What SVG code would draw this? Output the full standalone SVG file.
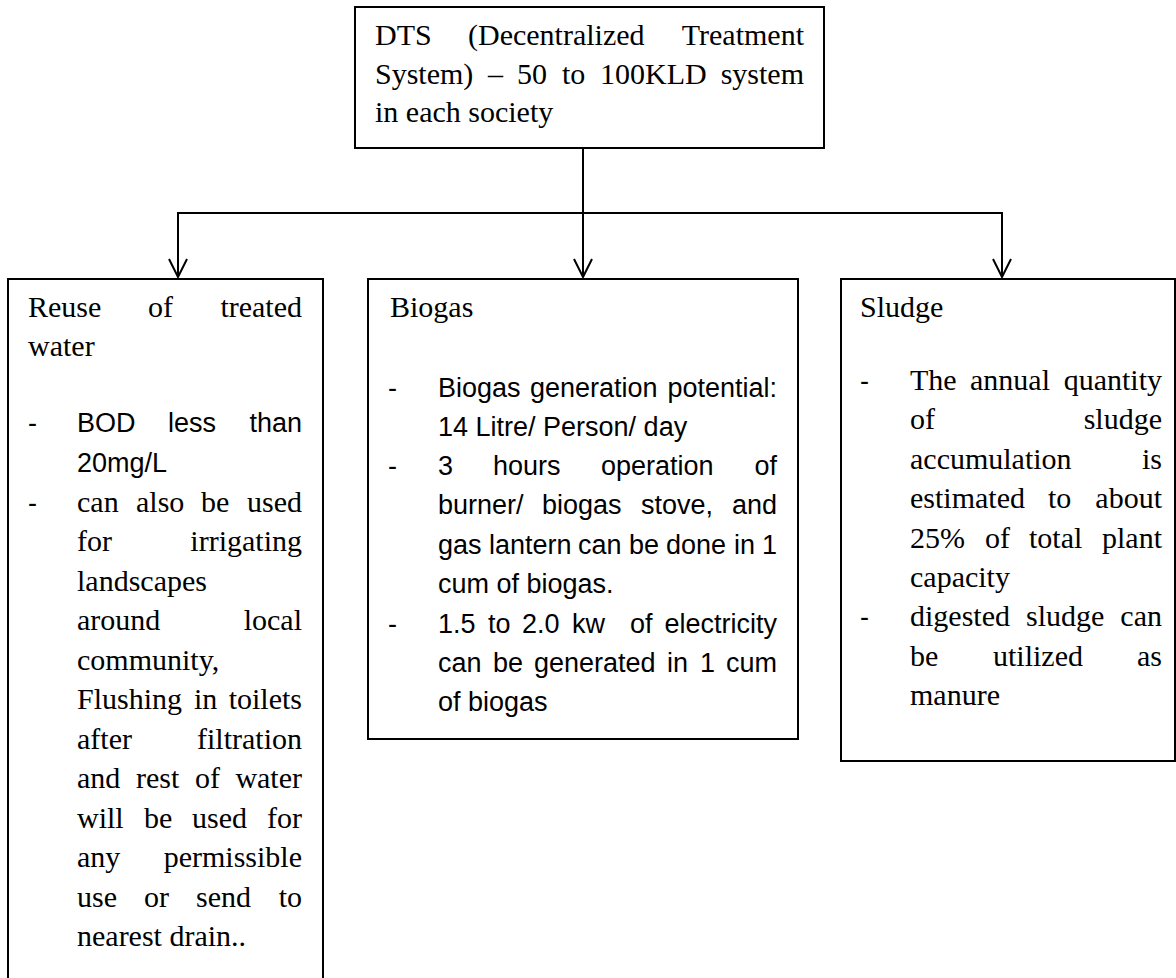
<svg xmlns="http://www.w3.org/2000/svg" width="1176" height="978" viewBox="0 0 1176 978">
<style>
.box{fill:#fff;stroke:#000;stroke-width:2}
.conn{fill:none;stroke:#000;stroke-width:2}
.s{font-family:"Liberation Serif","Times New Roman",serif;font-size:30px;fill:#000}
.n{font-family:"Liberation Sans",Arial,sans-serif;font-size:27px;fill:#000}
.e{text-anchor:end}
</style>
<defs>
<marker id="arr" markerUnits="userSpaceOnUse" viewBox="-20 -11 22 22" refX="0" refY="0" markerWidth="22" markerHeight="22" orient="auto" overflow="visible">
<path d="M-18,-9 L0,0 L-18,9" fill="none" stroke="#000" stroke-width="2"/>
</marker>
</defs>
<rect width="1176" height="978" fill="#fff"/>
<g id="connectors">
<line class="conn" x1="583" y1="148" x2="583" y2="213"/>
<line class="conn" x1="177" y1="213" x2="1003" y2="213"/>
<line class="conn" x1="178" y1="213" x2="178" y2="277" marker-end="url(#arr)"/>
<line class="conn" x1="583" y1="213" x2="583" y2="277" marker-end="url(#arr)"/>
<line class="conn" x1="1002" y1="213" x2="1002" y2="277" marker-end="url(#arr)"/>
</g>
<g id="dts">
<rect class="box" x="355" y="7" width="469" height="141"/>
<text class="s" y="45"><tspan x="375">DTS</tspan><tspan x="468">(Decentralized</tspan></text>
<text class="s e" x="804" y="45">Treatment</text>
<text class="s" y="84"><tspan x="375">System)</tspan><tspan x="488">–</tspan><tspan x="517">50</tspan><tspan x="562">to</tspan><tspan x="600">100KLD</tspan></text>
<text class="s e" x="804" y="84">system</text>
<text class="s" x="375" y="122">in each society</text>
</g>
<g id="reuse">
<rect class="box" x="8" y="279" width="315" height="720"/>
<text class="s" y="317"><tspan x="28">Reuse</tspan><tspan x="148">of</tspan></text>
<text class="s e" x="302" y="317">treated</text>
<text class="s" x="28" y="356">water</text>
<text class="n" x="28" y="432">-</text>
<text class="n" x="77" y="432">BOD</text>
<text class="n" x="168" y="432">less</text>
<text class="n e" x="302" y="432">than</text>
<text class="n" x="77" y="472">20mg/L</text>
<text class="n" x="28" y="512">-</text>
<text class="s" y="512"><tspan x="77">can</tspan><tspan x="136">also</tspan><tspan x="201">be</tspan></text>
<text class="s e" x="302" y="512">used</text>
<text class="s" x="77" y="551">for</text>
<text class="s e" x="302" y="551">irrigating</text>
<text class="s" x="77" y="591">landscapes</text>
<text class="s" x="77" y="630">around</text>
<text class="s e" x="302" y="630">local</text>
<text class="s" x="77" y="670">community,</text>
<text class="s" y="709"><tspan x="77">Flushing</tspan><tspan x="194">in</tspan></text>
<text class="s e" x="302" y="709">toilets</text>
<text class="s" x="77" y="749">after</text>
<text class="s e" x="302" y="749">filtration</text>
<text class="s" y="788"><tspan x="77">and</tspan><tspan x="136">rest</tspan><tspan x="195">of</tspan></text>
<text class="s e" x="302" y="788">water</text>
<text class="s" y="828"><tspan x="77">will</tspan><tspan x="144">be</tspan><tspan x="192">used</tspan></text>
<text class="s e" x="302" y="828">for</text>
<text class="s" x="77" y="867">any</text>
<text class="s e" x="302" y="867">permissible</text>
<text class="s" y="907"><tspan x="77">use</tspan><tspan x="144">or</tspan><tspan x="196">send</tspan></text>
<text class="s e" x="302" y="907">to</text>
<text class="s" x="77" y="946">nearest drain..</text>
</g>
<g id="biogas">
<rect class="box" x="368" y="279" width="430" height="460"/>
<text class="s" x="390" y="317">Biogas</text>
<text class="n" x="388" y="397">-</text>
<text class="n" y="397"><tspan x="438">Biogas</tspan><tspan x="530">generation</tspan></text>
<text class="n e" x="777" y="397">potential:</text>
<text class="n" x="438" y="436">14 Litre/ Person/ day</text>
<text class="n" x="388" y="475">-</text>
<text class="n" y="475"><tspan x="438">3</tspan><tspan x="493">hours</tspan><tspan x="601">operation</tspan></text>
<text class="n e" x="777" y="475">of</text>
<text class="n" y="514"><tspan x="438">burner/</tspan><tspan x="542">biogas</tspan><tspan x="641">stove,</tspan></text>
<text class="n e" x="777" y="514">and</text>
<text class="n" y="554"><tspan x="438">gas</tspan><tspan x="489">lantern</tspan><tspan x="578">can</tspan><tspan x="629">be</tspan><tspan x="666">done</tspan><tspan x="734">in</tspan></text>
<text class="n e" x="777" y="554">1</text>
<text class="n" x="438" y="593">cum of biogas.</text>
<text class="n" x="388" y="633">-</text>
<text class="n" y="633"><tspan x="438">1.5</tspan><tspan x="488">to</tspan><tspan x="522">2.0</tspan><tspan x="572">kw</tspan><tspan x="630">of</tspan></text>
<text class="n e" x="777" y="633">electricity</text>
<text class="n" y="672"><tspan x="438">can</tspan><tspan x="493">be</tspan><tspan x="534">generated</tspan><tspan x="667">in</tspan><tspan x="700">1</tspan></text>
<text class="n e" x="777" y="672">cum</text>
<text class="n" x="438" y="711">of biogas</text>
</g>
<g id="sludge">
<rect class="box" x="841" y="279" width="334" height="482"/>
<text class="s" x="860" y="317">Sludge</text>
<text class="n" x="860" y="390">-</text>
<text class="s" y="390"><tspan x="910">The</tspan><tspan x="970">annual</tspan></text>
<text class="s e" x="1162" y="390">quantity</text>
<text class="s" x="910" y="429">of</text>
<text class="s e" x="1162" y="429">sludge</text>
<text class="s" x="910" y="469">accumulation</text>
<text class="s e" x="1162" y="469">is</text>
<text class="s" y="508"><tspan x="910">estimated</tspan><tspan x="1048">to</tspan></text>
<text class="s e" x="1162" y="508">about</text>
<text class="s" y="548"><tspan x="910">25%</tspan><tspan x="985">of</tspan><tspan x="1029">total</tspan></text>
<text class="s e" x="1162" y="548">plant</text>
<text class="s" x="910" y="587">capacity</text>
<text class="n" x="860" y="626">-</text>
<text class="s" y="626"><tspan x="910">digested</tspan><tspan x="1026">sludge</tspan></text>
<text class="s e" x="1162" y="626">can</text>
<text class="s" y="666"><tspan x="910">be</tspan><tspan x="993">utilized</tspan></text>
<text class="s e" x="1162" y="666">as</text>
<text class="s" x="910" y="705">manure</text>
</g>
</svg>
